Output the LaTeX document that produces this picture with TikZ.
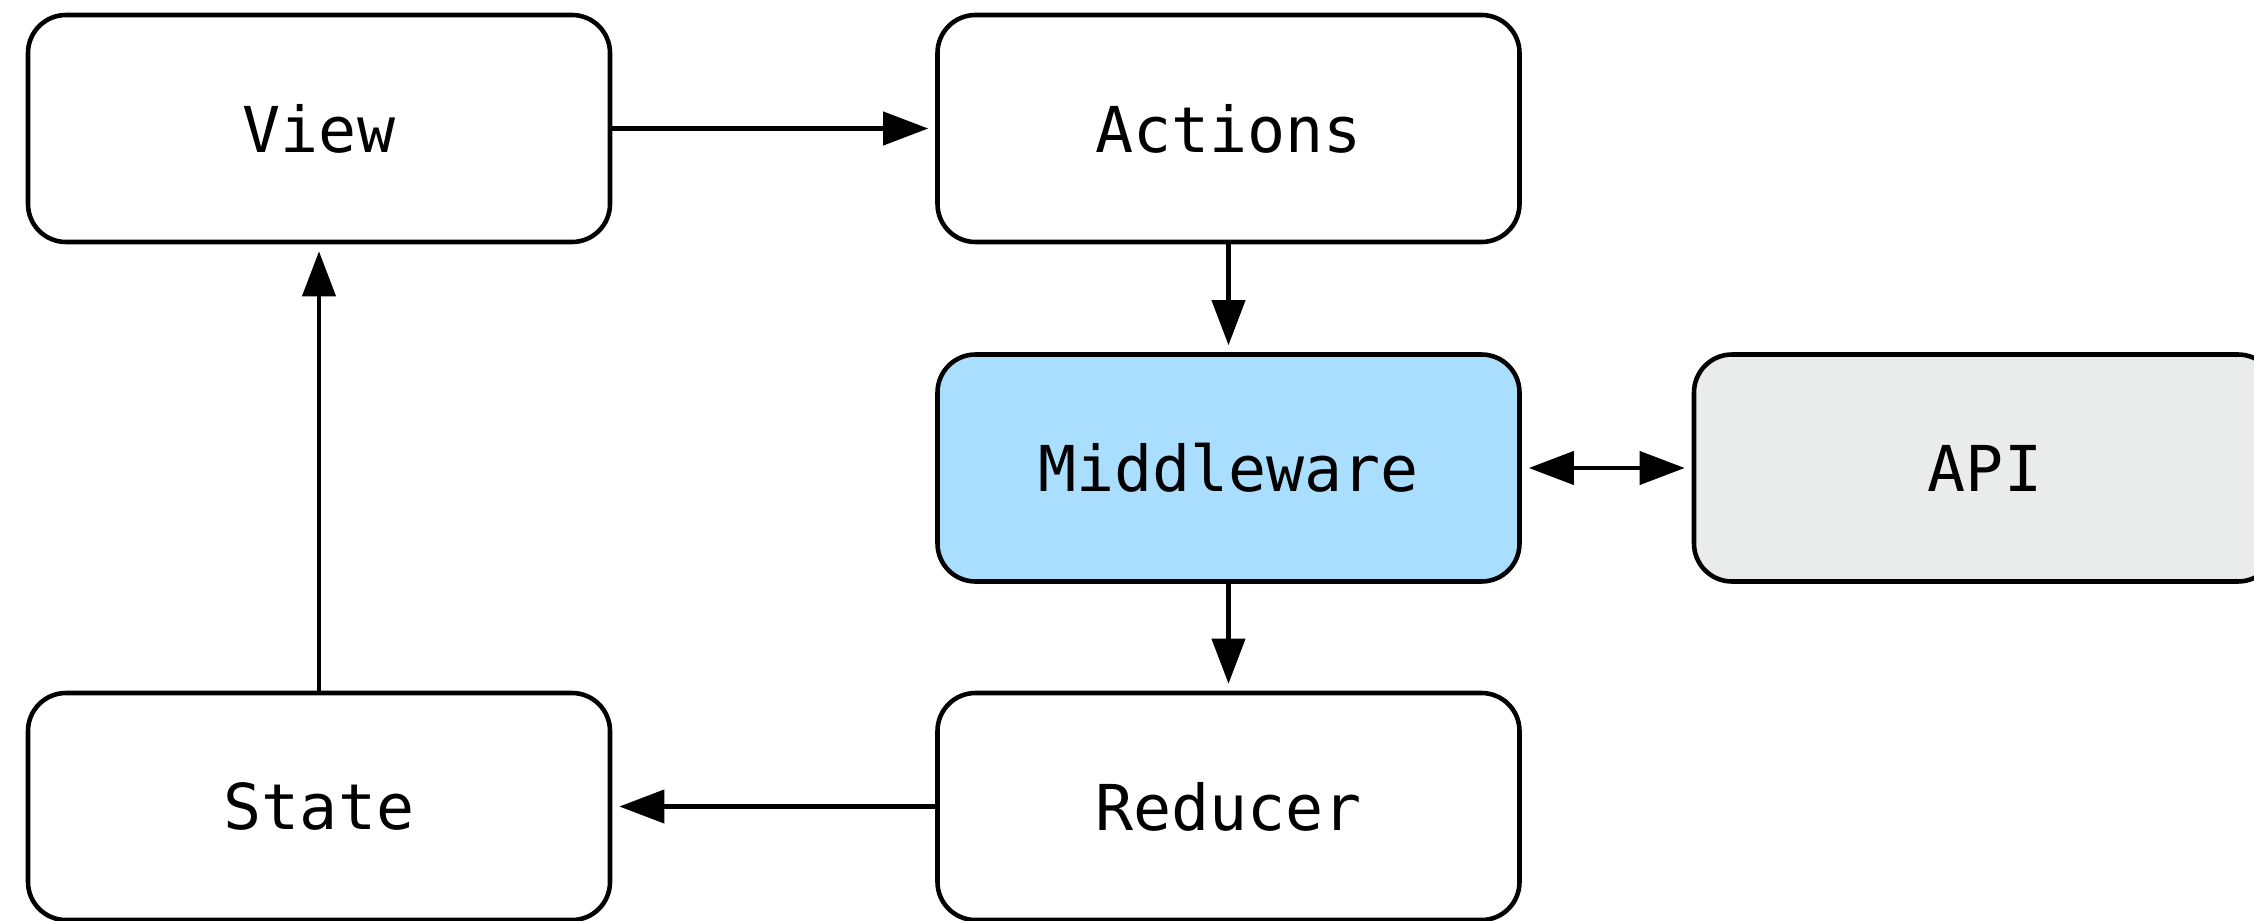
\documentclass[tikz,border=0pt]{standalone}
\usepackage{fontspec}
\setmonofont{DejaVu Sans Mono}
\usepackage{tikz}
\usetikzlibrary{arrows.meta}

\definecolor{mwblue}{RGB}{170,222,254}
\definecolor{apigray}{RGB}{234,235,235}

\tikzset{
	box/.style={draw, line width=1.3pt, rounded corners=0.38cm, minimum width=5.82cm,
		minimum height=2.27cm, inner sep=0pt, fill=white,
		font=\ttfamily\fontsize{18}{22}\selectfont},
	flow/.style={line width=1.2pt, -{Triangle[length=0.45cm,width=0.33cm]}, shorten >=2pt}
}

\begin{document}
\begin{tikzpicture}
\clip (0,0) rectangle (22.54,-9.21);
\node[box] (view) at (3.19,-1.285) {View};
\node[box] (actions) at (12.285,-1.285) {Actions};
\node[box, fill=mwblue] (middleware) at (12.285,-4.68) {Middleware};
\node[box, fill=apigray] (api) at (19.85,-4.68) {API};
\node[box] (state) at (3.19,-8.065) {State};
\node[box] (reducer) at (12.285,-8.065) {Reducer};
\draw[flow] (view) -- (actions);
\draw[flow] (actions) -- (middleware);
\draw[flow] (middleware) -- (reducer);
\draw[flow] (reducer) -- (state);
\draw[flow] (state) -- (view);
\draw[flow, {Triangle[length=0.45cm,width=0.33cm]}-{Triangle[length=0.45cm,width=0.33cm]}, shorten <=2pt] (middleware) -- (api);
\end{tikzpicture}
\end{document}
